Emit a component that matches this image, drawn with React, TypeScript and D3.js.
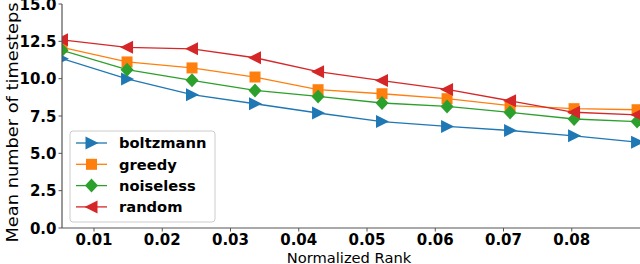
import React from 'react';
import * as d3 from 'd3';

const ranks = [0.00531, 0.01484, 0.02436, 0.03359, 0.04283, 0.0522, 0.06173, 0.07096, 0.08034, 0.08957];
const boltzmann = [11.34, 9.98, 8.93, 8.32, 7.7, 7.13, 6.8, 6.53, 6.17, 5.75];
const greedy = [12.1, 11.12, 10.72, 10.11, 9.26, 8.99, 8.66, 8.19, 7.99, 7.92];
const noiseless = [11.9, 10.6, 9.89, 9.21, 8.81, 8.37, 8.14, 7.74, 7.3, 7.13];
const random = [12.6, 12.1, 12.0, 11.4, 10.47, 9.87, 9.28, 8.52, 7.75, 7.58];
const xTicks = [0.01, 0.02, 0.03, 0.04, 0.05, 0.06, 0.07, 0.08];
const yTicks = [0, 2.5, 5, 7.5, 10, 12.5, 15];

const series = [
  { name: 'boltzmann', values: boltzmann, color: '#1f77b4', marker: 'right' },
  { name: 'greedy', values: greedy, color: '#ff7f0e', marker: 'square' },
  { name: 'noiseless', values: noiseless, color: '#2ca02c', marker: 'diamond' },
  { name: 'random', values: random, color: '#d62728', marker: 'left' },
];

const font = '"DejaVu Sans", sans-serif';

function Marker({ kind, x, y, color }: { kind: string; x: number; y: number; color: string }) {
  if (kind === 'square') {
    return <rect x={x - 5.5} y={y - 5.5} width={11} height={11} fill={color} />;
  }
  if (kind === 'diamond') {
    return <path d={`M${x},${y - 7}L${x + 6.5},${y}L${x},${y + 7}L${x - 6.5},${y}Z`} fill={color} />;
  }
  const s = kind === 'right' ? 1 : -1;
  return <path d={`M${x + 7 * s},${y}L${x - 6 * s},${y - 6.5}L${x - 6 * s},${y + 6.5}Z`} fill={color} />;
}

export default function App() {
  const left = 62, right = 640, top = 4, bottom = 228;
  const x = d3.scaleLinear().domain([0.00531, 0.09]).range([left, right]);
  const y = d3.scaleLinear().domain([0, 15]).range([bottom, top]);
  const line = d3.line<number>().x((_, i) => x(ranks[i])).y(d => y(d));

  return (
    <svg width={640} height={264} style={{ position: 'absolute', left: 0, top: 0, fontFamily: font }}>
      <defs>
        <clipPath id="plot">
          <rect x={left} y={top} width={right - left} height={bottom - top} />
        </clipPath>
      </defs>
      <g clipPath="url(#plot)">
        {series.map(s => (
          <g key={s.name}>
            <path d={line(s.values) ?? ''} fill="none" stroke={s.color} strokeWidth={1.3} />
            {s.values.map((v, i) => (
              <Marker key={i} kind={s.marker} x={x(ranks[i])} y={y(v)} color={s.color} />
            ))}
          </g>
        ))}
      </g>

      {/* axes */}
      <line x1={left} x2={left} y1={top} y2={bottom} stroke="#555" strokeWidth={1.2} />
      <line x1={left} x2={right} y1={bottom} y2={bottom} stroke="#555" strokeWidth={1.2} />
      {yTicks.map(t => (
        <g key={t}>
          <line x1={left - 3.5} x2={left} y1={y(t)} y2={y(t)} stroke="#555" />
          <text x={56.5} y={y(t)} dy="0.37em" textAnchor="end" fontSize={15} fontWeight="bold">
            {t.toFixed(1)}
          </text>
        </g>
      ))}
      {xTicks.map(t => (
        <g key={t}>
          <line x1={x(t)} x2={x(t)} y1={bottom} y2={bottom + 3.5} stroke="#555" />
          <text x={x(t)} y={245} textAnchor="middle" fontSize={15} fontWeight="bold">
            {t.toFixed(2)}
          </text>
        </g>
      ))}
      <text x={349} y={263} textAnchor="middle" fontSize={14.7}>Normalized Rank</text>
      <text
        transform="translate(18,122.5) rotate(-90)"
        textAnchor="middle"
        fontSize={16.5}
        textLength={240}
        lengthAdjust="spacingAndGlyphs"
      >
        Mean number of timesteps
      </text>

      {/* legend */}
      <rect x={70} y={131} width={145} height={91} rx={3} fill="white" fillOpacity={0.8} stroke="#ccc" />
      {series.map((s, i) => {
        const ly = 143 + i * 21.3;
        return (
          <g key={s.name}>
            <line x1={76} x2={107} y1={ly} y2={ly} stroke={s.color} strokeWidth={1.3} />
            <Marker kind={s.marker} x={91.5} y={ly} color={s.color} />
            <text x={119} y={ly} dy="0.36em" fontSize={14.7} fontWeight="bold">{s.name}</text>
          </g>
        );
      })}
    </svg>
  );
}
